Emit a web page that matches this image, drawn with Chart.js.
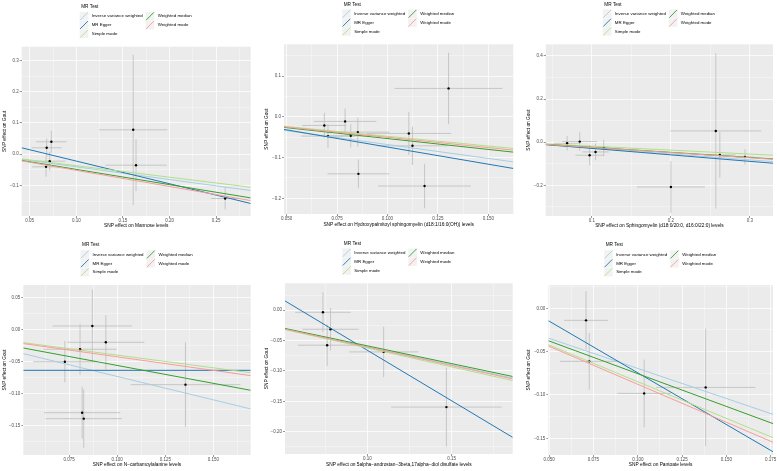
<!DOCTYPE html>
<html><head><meta charset="utf-8">
<script src="https://cdn.jsdelivr.net/npm/chart.js@4.4.1/dist/chart.umd.min.js"></script>
<style>
html,body{margin:0;padding:0;background:#fff;width:777px;height:471px;overflow:hidden;position:relative;}
canvas{position:absolute;}
</style></head><body>
<canvas id="c1"></canvas><canvas id="c2"></canvas><canvas id="c3"></canvas>
<canvas id="c4"></canvas><canvas id="c5"></canvas><canvas id="c6"></canvas>
<script>
// ---------------- DATA ----------------
const methods = ["Inverse variance weighted", "MR Egger", "Simple mode", "Weighted median", "Weighted mode"];
const legendTitle = "MR Test";
const yTitle = "SNP effect on Gout";

// Panel 1: Mannose
const p1XTitle = "SNP effect on Mannose levels";
const p1Bx = [0.0682, 0.0732, 0.0714, 0.0675, 0.161, 0.164, 0.2596];
const p1By = [0.0203, 0.0396, -0.0225, -0.0406, 0.078, -0.0353, -0.142];
const p1Sx = [0.016, 0.0165, 0.017, 0.015, 0.0365, 0.033, 0.015];
const p1Sy = [0.03, 0.035, 0.03, 0.032, 0.24, 0.083, 0.035];
const p1Slope = [-0.406, -0.726, -0.369, -0.488, -0.518];
const p1Intercept = [0, 0.0504, 0, 0, 0];
const p1XTicks = [0.05, 0.10, 0.15, 0.20, 0.25];
const p1XLabels = ["0.05", "0.10", "0.15", "0.20", "0.25"];
const p1YTicks = [-0.1, 0.0, 0.1, 0.2, 0.3];
const p1YLabels = ["\u22120.1", "0.0", "0.1", "0.2", "0.3"];

// Panel 2: Hydroxypalmitoyl sphingomyelin
const p2XTitle = "SNP effect on Hydroxypalmitoyl sphingomyelin (d18:1/16:0(OH)) levels";
const p2Bx = [0.0687, 0.0705, 0.0790, 0.0818, 0.0853, 0.0856, 0.1106, 0.1124, 0.1184, 0.1303];
const p2By = [-0.0212, -0.0474, -0.0113, -0.0467, -0.0376, -0.140, -0.0408, -0.0712, -0.170, 0.0697];
const p2Sx = [0.011, 0.0134, 0.0155, 0.0124, 0.0157, 0.0153, 0.021, 0.0174, 0.023, 0.0268];
const p2Sy = [0.031, 0.029, 0.0316, 0.0286, 0.036, 0.035, 0.053, 0.047, 0.0545, 0.0875];
const p2Slope = [-0.681, -0.843, -0.478, -0.534, -0.504];
const p2Intercept = [0, 0.0101, 0, 0, 0];
const p2XTicks = [0.050, 0.075, 0.100, 0.125, 0.150];
const p2XLabels = ["0.050", "0.075", "0.100", "0.125", "0.150"];
const p2YTicks = [-0.2, -0.1, 0.0, 0.1];
const p2YLabels = ["\u22120.2", "\u22120.1", "0.0", "0.1"];

// Panel 3: Sphingomyelin
const p3XTitle = "SNP effect on Sphingomyelin (d18:0/20:0, d16:0/22:0) levels";
const p3Bx = [0.0686, 0.0846, 0.0971, 0.1046, 0.115, 0.200, 0.2568, 0.2619, 0.2937];
const p3By = [-0.0046, 0.003, -0.0603, -0.045, -0.0264, -0.2074, 0.0524, -0.059, -0.068];
const p3Sx = [0.0167, 0.022, 0.018, 0.0167, 0.009, 0.043, 0.0575, 0.02, 0.011];
const p3Sy = [0.034, 0.043, 0.046, 0.038, 0.038, 0.12, 0.36, 0.106, 0.035];
const p3Slope = [-0.273, -0.3007, -0.183, -0.235, -0.24];
const p3Intercept = [0, 0.0015, 0, 0, 0];
const p3XTicks = [0.1, 0.2, 0.3];
const p3XLabels = ["0.1", "0.2", "0.3"];
const p3YTicks = [-0.2, 0.0, 0.2, 0.4];
const p3YLabels = ["\u22120.2", "0.0", "0.2", "0.4"];

// Panel 4: N-carbamoylalanine
const p4XTitle = "SNP effect on N\u2212carbamoylalanine levels";
const p4Bx = [0.0728, 0.0807, 0.0871, 0.0941, 0.0818, 0.0826, 0.1355];
const p4By = [-0.050, -0.0306, 0.0058, -0.0197, -0.1297, -0.139, -0.0859];
const p4Sx = [0.0165, 0.019, 0.0206, 0.020, 0.0198, 0.0198, 0.0285];
const p4Sy = [0.0324, 0.0396, 0.0568, 0.0423, 0.0405, 0.0456, 0.0659];
const p4Slope = [-0.731, 0.0, -0.397, -0.559, -0.424];
const p4Intercept = [0, -0.0635, 0, 0, 0];
const p4XTicks = [0.075, 0.100, 0.125, 0.150];
const p4XLabels = ["0.075", "0.100", "0.125", "0.150"];
const p4YTicks = [-0.15, -0.10, -0.05, 0.00, 0.05];
const p4YLabels = ["\u22120.15", "\u22120.10", "\u22120.05", "0.00", "0.05"];

// Panel 5: 5alpha-androstan-3beta,17alpha-diol disulfate
const p5XTitle = "SNP effect on 5alpha\u2212androstan\u22123beta,17alpha\u2212diol disulfate levels";
const p5Bx = [0.0737, 0.0782, 0.0762, 0.1097, 0.1469];
const p5By = [-0.0033, -0.0313, -0.0576, -0.0686, -0.1595];
const p5Sx = [0.0165, 0.0166, 0.0173, 0.0205, 0.0327];
const p5Sy = [0.0328, 0.0348, 0.034, 0.0417, 0.065];
const p5Slope = [-0.600, -1.665, -0.622, -0.586, -0.607];
const p5Intercept = [0, 0.1006, 0, 0, 0];
const p5XTicks = [0.10, 0.15];
const p5XLabels = ["0.10", "0.15"];
const p5YTicks = [-0.20, -0.15, -0.10, -0.05, 0.00];
const p5YLabels = ["\u22120.20", "\u22120.15", "\u22120.10", "\u22120.05", "0.00"];

// Panel 6: Pantoate
const p6XTitle = "SNP effect on Pantoate levels";
const p6Bx = [0.0708, 0.0726, 0.1036, 0.1383];
const p6By = [-0.0139, -0.0612, -0.0982, -0.0913];
const p6Sx = [0.0124, 0.0165, 0.0151, 0.028];
const p6Sy = [0.0337, 0.0327, 0.039, 0.0678];
const p6Slope = [-0.694, -1.193, -0.847, -0.755, -0.877];
const p6Intercept = [0, 0.0448, 0, 0, 0];
const p6XTicks = [0.050, 0.075, 0.100, 0.125, 0.150, 0.175];
const p6XLabels = ["0.050", "0.075", "0.100", "0.125", "0.150", "0.175"];
const p6YTicks = [-0.15, -0.10, -0.05, 0.00];
const p6YLabels = ["\u22120.15", "\u22120.10", "\u22120.05", "0.00"];

// ---------------- STYLE / LAYOUT ----------------
const methodColors = ["#A6CEE3", "#1F78B4", "#B2DF8A", "#33A02C", "#FB9A99"];
const FONT = '"Liberation Sans", Arial, Helvetica, sans-serif';
Chart.defaults.font.family = FONT;

const panels = [
  {id:"c1", box:[0,0,259,235],   plot:[21.7,46.7,250.7,216],  xr:[0.0414,0.287],  yr:[-0.198,0.344],  ytx:5,   xty:226,
   bx:p1Bx, by:p1By, sx:p1Sx, sy:p1Sy, slope:p1Slope, icpt:p1Intercept, xt:p1XTicks, xl:p1XLabels, yt:p1YTicks, yl:p1YLabels, title:p1XTitle},
  {id:"c2", box:[260,0,259,235], plot:[284,44.3,513.3,214],   xr:[0.0487,0.1624], yr:[-0.2386,0.178], ytx:267, xty:224.3,
   bx:p2Bx, by:p2By, sx:p2Sx, sy:p2Sy, slope:p2Slope, icpt:p2Intercept, xt:p2XTicks, xl:p2XLabels, yt:p2YTicks, yl:p2YLabels, title:p2XTitle},
  {id:"c3", box:[520,0,257,235], plot:[545.7,44.3,775,216],   xr:[0.0415,0.3292], yr:[-0.342,0.454],  ytx:529, xty:226,
   bx:p3Bx, by:p3By, sx:p3Sx, sy:p3Sy, slope:p3Slope, icpt:p3Intercept, xt:p3XTicks, xl:p3XLabels, yt:p3YTicks, yl:p3YLabels, title:p3XTitle},
  {id:"c4", box:[0,235,259,236], plot:[23.3,285,250.7,455],   xr:[0.0512,0.1694], yr:[-0.1958,0.0698], ytx:4.5, xty:465,
   bx:p4Bx, by:p4By, sx:p4Sx, sy:p4Sy, slope:p4Slope, icpt:p4Intercept, xt:p4XTicks, xl:p4XLabels, yt:p4YTicks, yl:p4YLabels, title:p4XTitle},
  {id:"c5", box:[260,235,259,236], plot:[285,283.3,512.7,454], xr:[0.0512,0.1862], yr:[-0.2368,0.0444], ytx:267, xty:464.5,
   bx:p5Bx, by:p5By, sx:p5Sx, sy:p5Sy, slope:p5Slope, icpt:p5Intercept, xt:p5XTicks, xl:p5XLabels, yt:p5YTicks, yl:p5YLabels, title:p5XTitle},
  {id:"c6", box:[520,235,257,236], plot:[548.3,285,774,455],  xr:[0.0495,0.1763], yr:[-0.1693,0.0269], ytx:529, xty:465,
   bx:p6Bx, by:p6By, sx:p6Sx, sy:p6Sy, slope:p6Slope, icpt:p6Intercept, xt:p6XTicks, xl:p6XLabels, yt:p6YTicks, yl:p6YLabels, title:p6XTitle}
];

function minorOf(major, lo, hi) {
  const d = major[1] - major[0], out = [];
  for (let i = -1; i < major.length; i++) {
    const v = i < 0 ? major[0] - d / 2 : major[i] + d / 2;
    if (v > lo && v < hi) out.push(v);
  }
  return out;
}
function tickSetter(major, labels, lo, hi) {
  return function (scale) {
    const t = major.map((v, i) => ({value: v, lbl: labels[i], minor: false}))
      .concat(minorOf(major, lo, hi).map(v => ({value: v, lbl: "", minor: true})));
    t.sort((a, b) => a.value - b.value);
    scale.ticks = t;
  };
}

const decoPlugin = {
  id: "deco",
  beforeDraw(chart) {
    const {ctx, chartArea: a} = chart;
    ctx.save();
    ctx.fillStyle = "#EBEBEB";
    ctx.fillRect(a.left, a.top, a.right - a.left, a.bottom - a.top);
    ctx.restore();
  },
  afterDraw(chart) {
    const {ctx, chartArea: a} = chart;
    const cx = (a.left + a.right) / 2;
    const L = cx - 56.5;
    ctx.save();
    ctx.fillStyle = "#000";
    ctx.textBaseline = "middle";
    ctx.textAlign = "left";
    ctx.font = "4.7px " + FONT;
    ctx.fillText(legendTitle, L + 1.5, a.top - 40);
    ctx.font = "4.4px " + FONT;
    methods.forEach((m, i) => {
      const col = i < 3 ? 0 : 1, row = i < 3 ? i : i - 3;
      const kx = L + col * 66, ky = a.top - 30.5 + row * 8.8;
      ctx.fillStyle = "#F2F2F2";
      ctx.fillRect(kx, ky - 4.3, 8.6, 8.6);
      ctx.strokeStyle = methodColors[i];
      ctx.lineWidth = 0.9;
      ctx.beginPath();
      ctx.moveTo(kx + 0.4, ky + 3.9);
      ctx.lineTo(kx + 8.2, ky - 3.9);
      ctx.stroke();
      ctx.fillStyle = "#000";
      ctx.fillText(m, kx + 12, ky);
    });
    ctx.restore();
  }
};

function axisOpts(isX, p) {
  const major = isX ? p.xt : p.yt, labels = isX ? p.xl : p.yl, r = isX ? p.xr : p.yr;
  const lh = 4.8 * 1.2;
  const [bl, bt, bw, bh] = p.box, [pl, pt, pr, pb] = p.plot;
  return {
    type: "linear",
    position: isX ? "bottom" : "left",
    min: r[0], max: r[1],
    afterBuildTicks: tickSetter(major, labels, r[0], r[1]),
    afterFit: isX ? (s => { s.height = bt + bh - pb; }) : (s => { s.width = pl - bl; }),
    border: {display: false},
    grid: {
      color: "#FFFFFF",
      lineWidth: c => (c.tick && c.tick.minor) ? 0.35 : 0.75,
      drawTicks: true,
      tickLength: 2,
      tickWidth: 0.5,
      tickColor: c => (c.tick && c.tick.minor) ? "rgba(0,0,0,0)" : "#333333"
    },
    ticks: {
      autoSkip: false, maxRotation: 0, minRotation: 0,
      padding: isX ? 0 : 1,
      color: "#4D4D4D",
      font: {size: 4.5},
      callback: (v, i, ts) => ts[i].lbl
    },
    title: {
      display: true,
      text: isX ? p.title : yTitle,
      color: "#000000",
      font: {size: 4.8, lineHeight: 1.2},
      padding: isX ? {top: 0, bottom: (bt + bh) - p.xty - lh / 2} : {top: p.ytx - bl - lh / 2, bottom: 0}
    }
  };
}

panels.forEach(p => {
  const cv = document.getElementById(p.id);
  const [bl, bt, bw, bh] = p.box, [pl, pt, pr, pb] = p.plot;
  cv.width = bw; cv.height = bh;
  cv.style.left = bl + "px"; cv.style.top = bt + "px";
  cv.style.width = bw + "px"; cv.style.height = bh + "px";

  const ds = [];
  for (let m = methods.length - 1; m >= 0; m--) {
    ds.push({
      label: methods[m], showLine: true, pointRadius: 0, borderWidth: 1,
      borderColor: methodColors[m], backgroundColor: methodColors[m],
      data: [{x: p.xr[0], y: p.icpt[m] + p.slope[m] * p.xr[0]}, {x: p.xr[1], y: p.icpt[m] + p.slope[m] * p.xr[1]}]
    });
  }
  ds.push({
    label: "SNP", pointRadius: 1.2, pointBorderWidth: 0, backgroundColor: "#000000", borderColor: "#000000",
    data: p.bx.map((v, i) => ({x: v, y: p.by[i]}))
  });
  p.bx.forEach((v, i) => {
    ds.push({label: "xerr", showLine: true, pointRadius: 0, borderWidth: 0.8, borderColor: "#BDBDBD",
      data: [{x: v - p.sx[i], y: p.by[i]}, {x: v + p.sx[i], y: p.by[i]}]});
    ds.push({label: "yerr", showLine: true, pointRadius: 0, borderWidth: 0.8, borderColor: "#BDBDBD",
      data: [{x: v, y: p.by[i] - p.sy[i]}, {x: v, y: p.by[i] + p.sy[i]}]});
  });

  new Chart(cv, {
    type: "scatter",
    data: {datasets: ds},
    options: {
      responsive: false, animation: false, devicePixelRatio: 1, events: [],
      layout: {padding: {top: pt - bt, right: (bl + bw) - pr, left: 0, bottom: 0}},
      plugins: {legend: {display: false}, tooltip: {enabled: false}},
      scales: {x: axisOpts(true, p), y: axisOpts(false, p)}
    },
    plugins: [decoPlugin]
  });
});
</script>
</body></html>
